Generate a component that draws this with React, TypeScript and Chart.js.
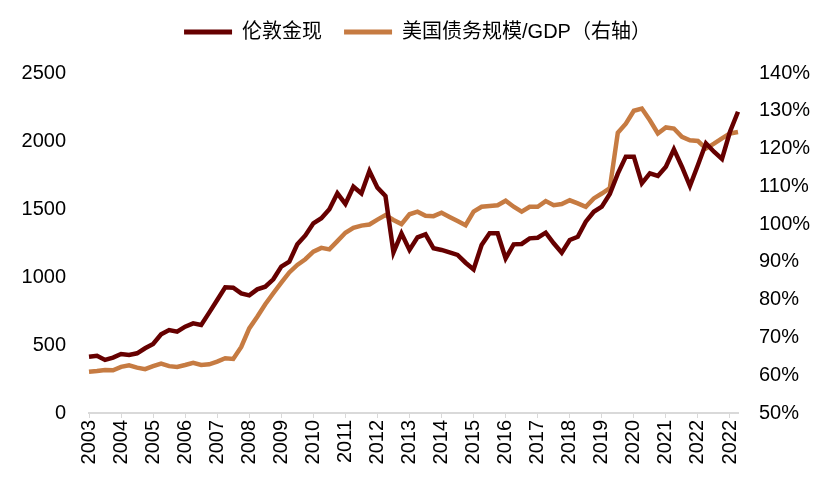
import React, { useEffect, useRef } from "react";
import { Chart, registerables } from "chart.js";

Chart.register(...registerables);

const yearTicks = [
  "2003", "2004", "2005", "2006", "2007", "2008", "2009", "2010", "2011", "2012",
  "2013", "2014", "2015", "2016", "2017", "2018", "2019", "2020", "2021", "2022", "2022",
];

// London gold spot (quarterly)
const goldSpot = [
  414, 421, 390, 407, 434, 426, 439, 476, 507, 578,
  610, 598, 635, 659, 647, 738, 831, 924, 921, 880,
  865, 909, 929, 983, 1076, 1113, 1240, 1306, 1395, 1432,
  1498, 1615, 1537, 1664, 1615, 1779, 1657, 1596, 1181, 1321,
  1199, 1292, 1314, 1211, 1199, 1181, 1162, 1105, 1056, 1235,
  1321, 1321, 1137, 1240, 1243, 1284, 1289, 1326, 1248, 1179,
  1272, 1296, 1407, 1480, 1517, 1610, 1760, 1885, 1885, 1689,
  1762, 1743, 1811, 1939, 1811, 1669, 1824, 1983, 1921, 1868,
  2068, 2215,
];

// US debt / GDP (%), right axis
const debtToGdp = [
  60.9, 61.1, 61.4, 61.3, 62.2, 62.6, 62.0, 61.6, 62.4, 63.1,
  62.4, 62.2, 62.7, 63.3, 62.7, 62.9, 63.6, 64.5, 64.3, 67.5,
  72.4, 75.5, 78.8, 81.7, 84.5, 87.2, 89.2, 90.7, 92.7, 93.7,
  93.3, 95.5, 97.7, 99.0, 99.6, 99.9, 101.2, 102.4, 101.1, 100.0,
  102.6, 103.3, 102.2, 102.1, 103.0, 101.9, 100.8, 99.7, 103.3, 104.6,
  104.8, 105.0, 106.2, 104.6, 103.3, 104.6, 104.6, 106.1, 105.0, 105.3,
  106.3, 105.5, 104.6, 106.8, 108.1, 109.5, 124.2, 126.6, 130.0, 130.6,
  127.5, 124.0, 125.6, 125.3, 123.1, 122.2, 122.0, 120.0, 121.3, 122.7,
  124.0, 124.4,
];

const seriesNames = ["伦敦金现", "美国债务规模/GDP（右轴）"];
const categories = goldSpot.map((_, i) => `${2003 + Math.floor(i / 4)}Q${(i % 4) + 1}`);

const GOLD = "#660000";
const ORANGE = "#C67B42";
const FONT = "'Liberation Sans', Arial, 'Noto Sans CJK SC', sans-serif";

export default function App() {
  const ref = useRef<HTMLCanvasElement | null>(null);

  useEffect(() => {
    document.body.style.margin = "0";
    const canvas = ref.current;
    if (!canvas) return;
    Chart.defaults.font.family = FONT;
    Chart.defaults.color = "#000";

    const legendHeightPlugin = {
      id: "legendHeight",
      beforeInit(chart: any) {
        const orig = chart.legend.fit;
        chart.legend.fit = function () {
          orig.call(this);
          this.height = 73;
        };
      },
    };

    const chart = new Chart(canvas, {
      type: "line",
      data: {
        labels: categories,
        datasets: [
          {
            label: seriesNames[0],
            data: goldSpot,
            borderColor: GOLD,
            backgroundColor: GOLD,
            borderWidth: 4.5,
            pointRadius: 0,
            tension: 0,
            yAxisID: "y",
          },
          {
            label: seriesNames[1],
            data: debtToGdp,
            borderColor: ORANGE,
            backgroundColor: ORANGE,
            borderWidth: 4.5,
            pointRadius: 0,
            tension: 0,
            yAxisID: "y1",
          },
        ],
      },
      plugins: [legendHeightPlugin],
      options: {
        responsive: false,
        animation: false,
        devicePixelRatio: 1,
        layout: { padding: 0 },
        plugins: {
          tooltip: { enabled: false },
          legend: {
            position: "top",
            labels: {
              boxWidth: 48,
              boxHeight: 5,
              padding: 22,
              font: { size: 20, family: FONT },
              color: "#000",
              generateLabels: (c: any) =>
                (Chart.defaults.plugins.legend.labels.generateLabels as any)(c).map((l: any) => ({
                  ...l,
                  lineWidth: 0,
                  fillStyle: l.strokeStyle,
                })),
            },
          },
        },
        scales: {
          x: {
            type: "category",
            offset: false,
            grid: {
              drawOnChartArea: false,
              drawTicks: true,
              tickLength: 5,
              color: (ctx: any) => (ctx.index % 4 === 0 ? "#d9d9d9" : "rgba(0,0,0,0)"),
            },
            border: { display: true, color: "#d9d9d9", width: 2 },
            ticks: {
              autoSkip: false,
              maxRotation: 90,
              minRotation: 90,
              padding: 2,
              font: { size: 20, family: FONT },
              color: "#000",
              callback: (_v: any, index: number) => (index % 4 === 0 ? yearTicks[index / 4] : ""),
            },
            afterFit: (s: any) => {
              s.height = 78;
            },
          },
          y: {
            position: "left",
            min: 0,
            max: 2500,
            grid: { display: false, drawTicks: false },
            border: { display: false },
            ticks: {
              stepSize: 500,
              padding: 23,
              font: { size: 20, family: FONT },
              color: "#000",
              callback: (v: any) => String(v),
            },
            afterFit: (s: any) => {
              s.width = 89;
            },
          },
          y1: {
            position: "right",
            min: 50,
            max: 140,
            grid: { display: false, drawTicks: false },
            border: { display: false },
            ticks: {
              stepSize: 10,
              padding: 21,
              font: { size: 20, family: FONT },
              color: "#000",
              callback: (v: any) => `${v}%`,
            },
            afterFit: (s: any) => {
              s.width = 97;
            },
          },
        },
      },
    } as any);

    return () => chart.destroy();
  }, []);

  return (
    <div style={{ width: 835, height: 491 }}>
      <canvas ref={ref} width={835} height={491} style={{ display: "block" }} />
    </div>
  );
}
